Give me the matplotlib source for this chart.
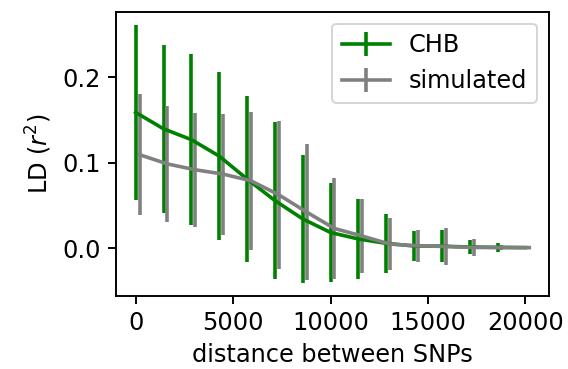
import numpy as np
import matplotlib
matplotlib.use("Agg")
import matplotlib.pyplot as plt

# distance bins between SNP pairs (bp)
distance = np.linspace(0, 20000, 15)
sim_shift = 200  # small horizontal offset so both series stay visible

chb_mean = [0.1587, 0.1395, 0.1268, 0.1076, 0.0808, 0.0556, 0.0341, 0.0182,
            0.0106, 0.0055, 0.0024, 0.0022, 0.0012, 0.0008, 0.0005]
chb_err = [0.1027, 0.0984, 0.1002, 0.0986, 0.0972, 0.0916, 0.0751, 0.0581,
           0.0466, 0.0349, 0.0176, 0.0186, 0.0078, 0.0055, 0.0]

sim_mean = [0.1092, 0.0984, 0.0916, 0.0865, 0.0787, 0.0623, 0.0421, 0.0229,
            0.0140, 0.0046, 0.0026, 0.0018, 0.0007, 0.0006, 0.0005]
sim_err = [0.0708, 0.0680, 0.0669, 0.0708, 0.0806, 0.0865, 0.0792, 0.0593,
           0.0430, 0.0300, 0.0190, 0.0220, 0.0104, 0.0030, 0.0]

scale = 1.2
plt.rcParams.update({
    "font.size": 10 * scale,
    "lines.linewidth": 1.5 * scale,
    "axes.linewidth": 0.8 * scale,
    "xtick.major.width": 0.8 * scale,
    "ytick.major.width": 0.8 * scale,
    "xtick.major.size": 3.5 * scale,
    "ytick.major.size": 3.5 * scale,
})

fig = plt.figure(figsize=(568 / 144, 369 / 144), dpi=144)
ax = fig.add_axes([0.2042, 0.1978, 0.7623, 0.7705])

ax.errorbar(distance, chb_mean, yerr=chb_err, color="green", label="CHB")
ax.errorbar(distance + sim_shift, sim_mean, yerr=sim_err, color="gray",
            label="simulated")

ax.set_xlabel("distance between SNPs")
ax.set_ylabel("LD ($r^2$)")
ax.set_xticks([0, 5000, 10000, 15000, 20000])
ax.set_yticks([0.0, 0.1, 0.2])
ax.legend(loc="upper right")

fig.savefig("out.png", dpi=144)
